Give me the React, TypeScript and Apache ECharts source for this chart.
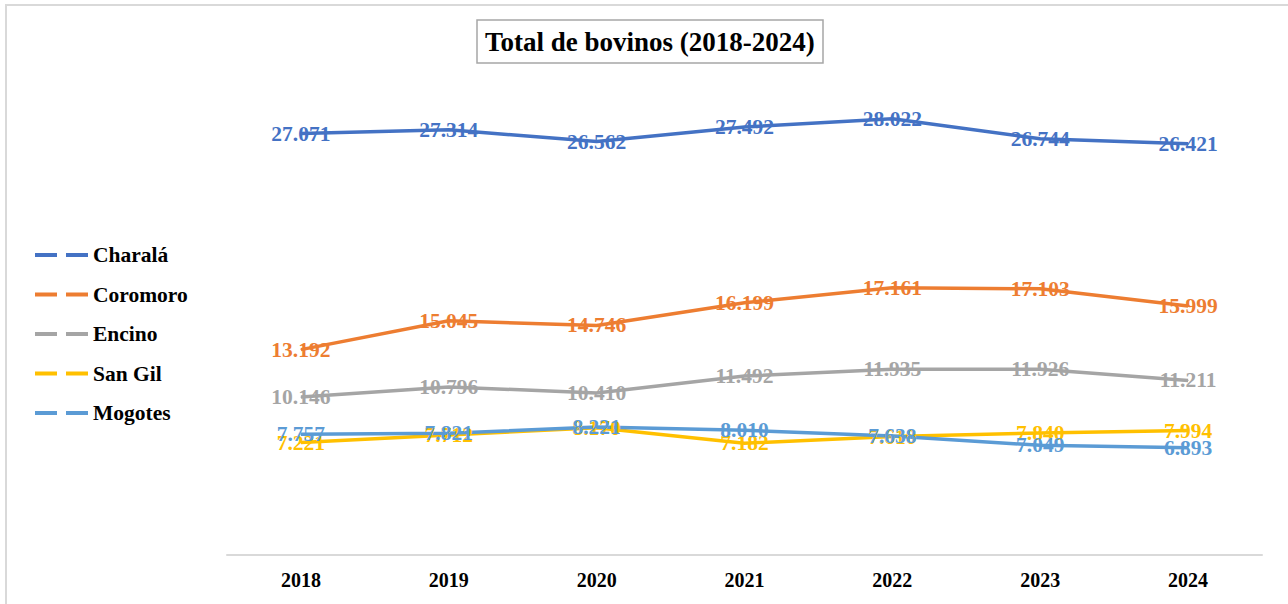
import React, { useEffect, useRef } from "react";
import * as echarts from "echarts";

const years = ["2018", "2019", "2020", "2021", "2022", "2023", "2024"];
const charala = [27071, 27314, 26562, 27492, 28022, 26744, 26421];
const coromoro = [13192, 15045, 14746, 16199, 17161, 17103, 15999];
const encino = [10146, 10796, 10410, 11492, 11935, 11926, 11211];
const sanGil = [7221, 7712, 8170, 7182, 7610, 7840, 7994];
const mogotes = [7757, 7821, 8221, 8010, 7638, 7049, 6893];

const seriesNames = ["Charalá", "Coromoro", "Encino", "San Gil", "Mogotes"];
const seriesColors = ["#4472C4", "#ED7D31", "#A5A5A5", "#FFC000", "#5B9BD5"];
const seriesData = [charala, coromoro, encino, sanGil, mogotes];

const FONT = "'Liberation Serif', 'Times New Roman', serif";

function fmt(v: number): string {
  return String(v).replace(/\B(?=(\d{3})+(?!\d))/g, ".");
}

export default function App() {
  const ref = useRef<HTMLDivElement>(null);
  useEffect(() => {
    if (!ref.current) return;
    const chart = echarts.init(ref.current, undefined, { renderer: "svg" });
    const lines = seriesNames.map((name, i) => ({
      name,
      type: "line",
      data: seriesData[i],
      symbol: "none",
      itemStyle: { color: seriesColors[i] },
      lineStyle: { color: seriesColors[i], width: 3.5 },
      z: 2,
    }));
    const labels = seriesNames.map((name, i) => ({
      name,
      type: "scatter",
      data: seriesData[i],
      symbol: "circle",
      symbolSize: 1,
      itemStyle: { color: seriesColors[i], opacity: 1 },
      label: {
        show: true,
        position: "inside",
        formatter: (p: any) => fmt(p.value),
        fontFamily: FONT,
        fontWeight: "bold",
        fontSize: 21.5,
        color: seriesColors[i],
        opacity: 1,
      },
      z: 10 + i,
    }));
    chart.setOption({
      animation: false,
      backgroundColor: "#ffffff",
      title: {
        text: "Total de bovinos (2018-2024)",
        left: 477,
        top: 20,
        padding: [8, 8, 8, 8],
        borderColor: "#a6a6a6",
        borderWidth: 1.5,
        textStyle: {
          fontFamily: FONT,
          fontWeight: "bold",
          fontSize: 27,
          color: "#000000",
        },
      },
      graphic: [
        {
          type: "rect",
          shape: { x: 6, y: 5, width: 1400, height: 700 },
          style: { fill: "none", stroke: "#d9d9d9", lineWidth: 2 },
          silent: true,
        },
      ],
      legend: {
        orient: "vertical",
        left: 35,
        top: 244,
        padding: 0,
        itemWidth: 53,
        itemHeight: 4,
        itemGap: 17.5,
        icon: "path://M0,0H22V4H0Z M31,0H53V4H31Z",
        textStyle: {
          fontFamily: FONT,
          fontWeight: "bold",
          fontSize: 21.5,
          color: "#000000",
        },
        data: seriesNames,
      },
      grid: { left: 227, right: 26, top: 88, bottom: 49 },
      xAxis: {
        type: "category",
        data: years,
        boundaryGap: true,
        axisLine: { show: true, lineStyle: { color: "#d9d9d9", width: 2 } },
        axisTick: { show: false },
        axisLabel: {
          margin: 15,
          fontFamily: FONT,
          fontWeight: "bold",
          fontSize: 20,
          color: "#000000",
        },
      },
      yAxis: {
        type: "value",
        min: 0,
        max: 30000,
        show: false,
        splitLine: { show: false },
      },
      series: [...lines, ...labels],
    });
    return () => chart.dispose();
  }, []);
  return (
    <div
      ref={ref}
      style={{ position: "absolute", left: 0, top: 0, width: 1288, height: 604 }}
    />
  );
}
